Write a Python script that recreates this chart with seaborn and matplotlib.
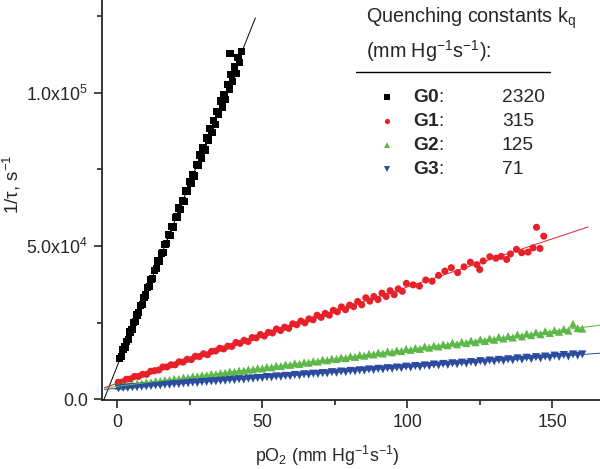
import numpy as np
import pandas as pd
import matplotlib
matplotlib.use('Agg')
import matplotlib.pyplot as plt
from matplotlib.ticker import MultipleLocator, FuncFormatter
import seaborn as sns

# dendrimer generations and their quenching constants (mm Hg^-1 s^-1)
generations = ['G0', 'G1', 'G2', 'G3']
kq_labels = ['2320', '315', '125', '71']
colors = ['#000000', '#e8202a', '#5cb848', '#2a4b9e']
markers = ['s', 'o', '^', 'v']

# pO2 readings and 1/tau values (in 10^3 s^-1)
po2_g0 = [0.8, 1.4, 2.0, 2.6, 3.2, 3.8, 4.4, 5.0, 5.6, 6.2,
          6.8, 7.4, 8.0, 8.6, 9.2, 9.8, 10.4, 11.0, 11.6, 12.2,
          12.8, 13.4, 14.0, 14.6, 15.2, 15.8, 16.4, 17.0, 17.6, 18.2,
          18.8, 19.4, 20.0, 20.6, 21.2, 21.8, 22.4, 23.0, 23.6, 24.2,
          24.8, 25.4, 26.0, 26.6, 27.2, 27.8, 28.4, 29.0, 29.6, 30.2,
          30.8, 31.4, 32.0, 32.6, 33.2, 33.8, 34.4, 35.0, 35.6, 36.2,
          36.8, 37.4, 38.0, 38.6, 39.2, 39.8, 40.4, 41.0, 41.6, 42.2,
          42.8, 38.9]
rate_g0 = [13.3, 14.0, 16.3, 17.0, 18.9, 19.5, 21.9, 22.8, 25.0, 25.3,
           27.5, 28.2, 30.6, 30.9, 33.1, 34.0, 36.5, 36.7, 39.0, 39.3,
           42.0, 42.6, 45.1, 45.1, 47.6, 47.8, 50.4, 50.9, 53.7, 53.5,
           56.3, 56.2, 59.2, 59.5, 62.4, 62.0, 64.7, 64.6, 67.9, 67.9,
           71.0, 70.4, 73.3, 72.9, 76.6, 76.3, 79.7, 78.7, 82.1, 81.3,
           85.3, 84.6, 88.4, 87.1, 90.9, 89.6, 94.0, 92.9, 97.3, 95.4,
           99.5, 97.8, 102.8, 101.2, 106.0, 103.7, 108.4, 106.3, 111.5, 109.8,
           113.5, 112.9]

po2_g1 = [0.3, 1.7, 3.1, 4.5, 5.9, 7.3, 8.7, 10.1, 11.5, 12.9,
          14.3, 15.7, 17.1, 18.5, 19.9, 21.3, 22.7, 24.1, 25.5, 26.9,
          28.3, 29.7, 31.1, 32.5, 33.9, 35.3, 36.7, 38.1, 39.5, 40.9,
          42.3, 43.7, 45.1, 46.5, 47.9, 49.3, 50.7, 52.1, 53.5, 54.9,
          56.3, 57.7, 59.1, 60.5, 61.9, 63.3, 64.7, 66.1, 67.5, 68.9,
          70.3, 71.7, 73.1, 74.5, 75.9, 77.3, 78.7, 80.1, 81.5, 82.9,
          84.3, 85.7, 87.1, 88.5, 89.9, 91.3, 92.7, 94.1, 95.5, 96.9,
          98.3, 99.7,
          102.0, 104.2, 106.4, 108.6, 110.8, 113.0, 115.2, 117.4, 119.6, 121.8,
          124.0, 125.0, 126.2, 128.5, 130.6, 132.4, 134.3, 135.6, 137.7, 139.5,
          141.7, 143.4, 144.6, 145.8, 147.1]
rate_g1 = [5.5, 5.6, 6.5, 6.6, 7.4, 7.4, 8.1, 8.1, 9.1, 9.3,
           9.5, 10.5, 10.5, 11.2, 11.2, 12.2, 12.1, 13.0, 12.9, 14.0,
           13.9, 14.8, 14.5, 15.6, 15.7, 16.6, 16.4, 17.3, 17.2, 18.5,
           18.2, 19.2, 18.8, 20.1, 20.0, 21.1, 20.6, 21.8, 21.6, 22.9,
           22.4, 23.5, 23.1, 24.6, 24.3, 25.5, 24.9, 26.2, 25.9, 27.4,
           26.7, 28.0, 27.4, 29.0, 28.5, 30.1, 29.2, 30.7, 30.2, 31.9,
           30.8, 33.1, 32.0, 33.5, 32.5, 34.6, 33.5, 35.4, 34.1, 36.0,
           35.2, 37.8,
           37.3, 36.9, 38.9, 38.5, 40.4, 41.8, 42.9, 41.3, 43.2, 44.7,
           43.9, 42.3, 45.1, 46.5, 46.0, 46.6, 45.6, 47.4, 48.9, 47.8,
           48.0, 49.4, 56.1, 49.2, 53.2]

# G2 and G3 were recorded at the same pO2 steps
po2_g23 = [0.4, 2.0, 3.6, 5.2, 6.8, 8.4, 10.0, 11.6, 13.2, 14.8,
           16.4, 18.0, 19.6, 21.2, 22.8, 24.4, 26.0, 27.6, 29.2, 30.8,
           32.4, 34.0, 35.6, 37.2, 38.8, 40.4, 42.0, 43.6, 45.2, 46.8,
           48.4, 50.0, 51.6, 53.2, 54.8, 56.4, 58.0, 59.6, 61.2, 62.8,
           64.4, 66.0, 67.6, 69.2, 70.8, 72.4, 74.0, 75.6, 77.2, 78.8,
           80.4, 82.0, 83.6, 85.2, 86.8, 88.4, 90.0, 91.6, 93.2, 94.8,
           96.4, 98.0, 99.6, 101.2, 102.8, 104.4, 106.0, 107.6, 109.2, 110.8,
           112.4, 114.0, 115.6, 117.2, 118.8, 120.4, 122.0, 123.6, 125.2, 126.8,
           128.4, 130.0, 131.6, 133.2, 134.8, 136.4, 138.0, 139.6, 141.2, 142.8,
           144.4, 146.0, 147.6, 149.2, 150.8, 152.4, 154.0, 155.6, 157.2, 158.8,
           160.4]
rate_g2 = [4.3, 4.4, 4.7, 4.8, 5.1, 5.1, 5.5, 5.5, 5.9, 5.9,
           6.2, 6.3, 6.6, 6.6, 7.0, 7.0, 7.4, 7.4, 7.8, 7.8,
           8.2, 8.1, 8.5, 8.6, 9.0, 8.9, 9.3, 9.3, 9.7, 9.7,
           10.1, 10.0, 10.5, 10.4, 10.9, 10.8, 11.3, 11.2, 11.7, 11.5,
           12.0, 11.9, 12.4, 12.3, 12.9, 12.7, 13.2, 13.1, 13.6, 13.4,
           14.0, 13.8, 14.4, 14.2, 14.8, 14.6, 15.2, 14.9, 15.6, 15.3,
           15.9, 15.7, 16.4, 16.1, 16.7, 16.4, 17.2, 16.8, 17.5, 17.2,
           17.9, 17.6, 18.4, 17.9, 18.7, 18.3, 19.1, 18.6, 19.5, 19.0,
           19.8, 19.4, 20.3, 19.8, 20.6, 20.1, 21.1, 20.5, 21.4, 20.9,
           21.8, 21.2, 22.2, 21.6, 22.5, 22.0, 22.9, 22.4, 24.6, 23.2,
           23.0]
rate_g3 = [3.5, 3.7, 3.7, 3.9, 3.9, 4.1, 4.2, 4.3, 4.5, 4.5,
           4.7, 4.7, 4.9, 4.9, 5.1, 5.2, 5.4, 5.3, 5.6, 5.6,
           5.8, 5.8, 6.0, 6.0, 6.3, 6.2, 6.5, 6.4, 6.7, 6.7,
           6.9, 6.9, 7.2, 7.1, 7.4, 7.3, 7.6, 7.5, 7.9, 7.7,
           8.1, 8.0, 8.3, 8.2, 8.5, 8.4, 8.8, 8.6, 9.0, 8.8,
           9.2, 9.1, 9.4, 9.3, 9.7, 9.5, 9.9, 9.7, 10.1, 9.9,
           10.3, 10.1, 10.6, 10.3, 10.8, 10.5, 11.0, 10.8, 11.3, 11.0,
           11.5, 11.2, 11.7, 11.4, 11.9, 11.6, 12.1, 11.8, 12.4, 12.0,
           12.6, 12.3, 12.8, 12.5, 13.0, 12.7, 13.3, 12.9, 13.5, 13.1,
           13.7, 13.3, 13.9, 13.5, 14.2, 13.8, 14.4, 13.9, 14.6, 14.2,
           14.6]

# pO2 span over which each linear fit is drawn
fit_start = [-4.7, -4.5, -4.5, -4.5]
fit_end = [47.6, 162.4, 167.0, 167.0]

po2_all = [po2_g0, po2_g1, po2_g23, po2_g23]
rate_all = [rate_g0, rate_g1, rate_g2, rate_g3]

# long table for seaborn
frames = []
for gen, x, y in zip(generations, po2_all, rate_all):
    frames.append(pd.DataFrame({'pO2': x, 'rate': np.array(y) * 1000, 'gen': gen}))
df = pd.concat(frames, ignore_index=True)

sns.set_style('ticks')
plt.rcParams['font.family'] = ['Liberation Sans', 'DejaVu Sans']
plt.rcParams['mathtext.fontset'] = 'custom'
plt.rcParams['mathtext.rm'] = 'Liberation Sans'
plt.rcParams['mathtext.bf'] = 'Liberation Sans:bold'
plt.rcParams['mathtext.it'] = 'Liberation Sans:italic'
plt.rcParams['mathtext.default'] = 'regular'
fs = 12.8

fig = plt.figure(figsize=(6, 4.69), dpi=100)
ax = fig.add_axes([0.17, 0.147, 0.83, 0.853])

sns.scatterplot(data=df, x='pO2', y='rate', hue='gen', style='gen',
                hue_order=generations, style_order=generations,
                palette=dict(zip(generations, colors)),
                markers=dict(zip(generations, markers)),
                size='gen', sizes={'G0': 28, 'G1': 26, 'G2': 34, 'G3': 34},
                linewidth=0, legend=False, ax=ax, zorder=2)

# straight-line fits through each series
for i, gen in enumerate(generations):
    sub = df[df['gen'] == gen]
    slope, icpt = np.polyfit(sub['pO2'], sub['rate'], 1)
    xx = np.array([fit_start[i], fit_end[i]])
    ax.plot(xx, icpt + slope * xx, color=colors[i], lw=0.7, zorder=3)

ax.set_xlim(-5.3, 166.5)
ax.set_ylim(-300, 130300)
ax.xaxis.set_major_locator(MultipleLocator(50))
ax.xaxis.set_minor_locator(MultipleLocator(25))
ax.yaxis.set_major_locator(MultipleLocator(50000))
ax.yaxis.set_minor_locator(MultipleLocator(25000))


def sci_fmt(v, pos):
    if abs(v) < 1e-9:
        return '0.0'
    e = int(np.floor(np.log10(abs(v))))
    return r'%.1fx10$^{%d}$' % (v / 10 ** e, e)


ax.yaxis.set_major_formatter(FuncFormatter(sci_fmt))
ax.tick_params(which='major', direction='out', length=6, width=1.2, labelsize=fs, pad=4)
ax.tick_params(which='minor', direction='out', length=3.5, width=1.2)
sns.despine(ax=ax)
for sp in ['left', 'bottom']:
    ax.spines[sp].set_linewidth(1.3)

ax.set_xlabel(r'pO$_2$ (mm Hg$^{-1}$s$^{-1}$)', fontsize=fs)
ax.set_ylabel(r'1/$\tau$, s$^{-1}$', fontsize=13.5)
ax.xaxis.set_label_coords(0.452, -0.11)
ax.yaxis.set_label_coords(-0.158, 0.54)

# table-style legend in the upper right
tr = ax.transAxes
ax.text(0.530, 0.9425, r'Quenching constants k$_q$', transform=tr, fontsize=14.2, va='baseline')
ax.text(0.530, 0.855, r'(mm Hg$^{-1}$s$^{-1}$):', transform=tr, fontsize=14.2, va='baseline')
ax.plot([0.510, 0.900], [0.82, 0.82], color='black', lw=1.0, transform=tr, clip_on=False)
row_base = [0.744, 0.685, 0.625, 0.565]
for i, gen in enumerate(generations):
    ax.plot([0.572], [row_base[i] + 0.0125], marker=markers[i], color=colors[i],
            ms=3.8, mew=0, transform=tr, clip_on=False)
    ax.text(0.6245, row_base[i], r'$\mathbf{%s}$:' % gen, transform=tr, fontsize=13.8, va='baseline')
    ax.text(0.803, row_base[i], kq_labels[i], transform=tr, fontsize=13.8, va='baseline')

fig.savefig('out.png', dpi=100)
